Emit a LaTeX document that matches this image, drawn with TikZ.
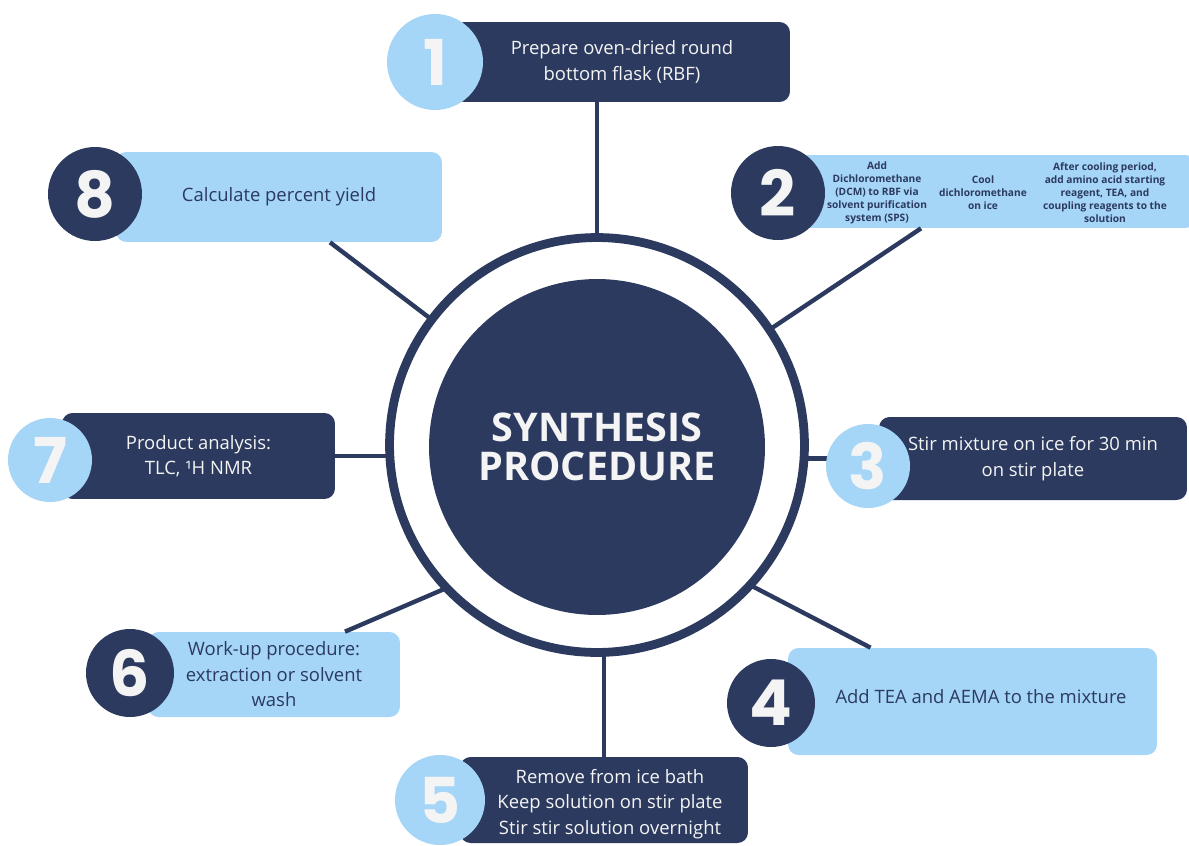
\documentclass[tikz,border=0pt]{standalone}
\usepackage{fontspec}
\setmainfont{Open Sans}
\newfontfamily\numfont{Poppins}
\usetikzlibrary{positioning}
\definecolor{navy}{HTML}{2B3A5E}
\definecolor{skyblue}{HTML}{A5D5F7}
\definecolor{chalk}{HTML}{F4F4F4}

\begin{document}
\begin{tikzpicture}[
  x=0.02cm, y=-0.02cm,
  darkbox/.style={fill=navy, rounded corners=6pt, inner sep=0pt, text=chalk, align=center,
    font=\fontsize{10.5}{14.5}\selectfont},
  lightbox/.style={fill=skyblue, rounded corners=6pt, inner sep=0pt, text=navy, align=center,
    font=\fontsize{10.5}{14.5}\selectfont},
  darknum/.style={circle, fill=navy, text=chalk, inner sep=0pt,
    font=\numfont\bfseries\fontsize{36}{36}\selectfont},
  lightnum/.style={circle, fill=skyblue, text=chalk, inner sep=0pt,
    font=\numfont\bfseries\fontsize{36}{36}\selectfont},
  bodytext/.style={text=navy, align=center, font=\fontsize{10.5}{14.5}\selectfont},
  smalltext/.style={text=navy, align=center, font=\bfseries\fontsize{5.8}{7.4}\selectfont},
  spoke/.style={navy, line width=2.5pt},
]

% Background
\fill[white] (0,0) rectangle (1189,845);
\useasboundingbox (0,0) rectangle (1189,845);

% Step boxes
\node[darkbox, minimum width=6.72cm, minimum height=1.6cm] (b1) at (622,62)
  {Prepare oven-dried round\\bottom flask (RBF)};
\node[lightbox, minimum width=8.12cm, minimum height=1.46cm] (b2) at (993,191.5) {};
\node[smalltext] (t2a) at (877,193)
  {Add\\Dichloromethane\\(DCM) to RBF via\\solvent purification\\system (SPS)};
\node[smalltext] (t2b) at (983,193) {Cool\\dichloromethane\\on ice};
\node[smalltext] (t2c) at (1105,193)
  {After cooling period,\\add amino acid starting\\reagent, TEA, and\\coupling reagents to the\\solution};
\node[darkbox, minimum width=6.16cm, minimum height=1.66cm] (b3) at (1033,458.5)
  {Stir mixture on ice for 30 min\\on stir plate};
\node[lightbox, minimum width=7.38cm, minimum height=2.14cm] (b4) at (972.5,701.5) {};
\node[bodytext] (t4) at (981,697) {Add TEA and AEMA to the mixture};
\node[darkbox, minimum width=5.76cm, minimum height=1.72cm] (b5) at (604,800) {};
\node[bodytext, text=chalk] (t5) at (610,804)
  {Remove from ice bath\\Keep solution on stir plate\\Stir stir solution overnight};
\node[lightbox, minimum width=5.04cm, minimum height=1.7cm] (b6) at (274,674.5)
  {Work-up procedure:\\extraction or solvent\\wash};
\node[darkbox, minimum width=5.46cm, minimum height=1.72cm] (b7) at (198.5,456)
  {Product analysis:\\TLC, ¹H NMR};
\node[lightbox, minimum width=6.52cm, minimum height=1.8cm] (b8) at (279,197)
  {Calculate percent yield};

% Spokes out of the hub
\coordinate (c) at (597,445);
\draw[spoke] (c) -- (c |- b1.south);
\draw[spoke] (c) -- ([xshift=-1.44cm]b2.south);
\draw[spoke] (b3.west -| c) -- (b3.west);
\draw[spoke] ([shift={(103,114)}]c) -- ([xshift=-2.04cm]b4.north);
\draw[spoke] (b5.north |- c) -- (b5.north);
\draw[spoke] ([shift={(-97,120)}]c) -- ([xshift=1.42cm]b6.north);
\draw[spoke] (b7.east -| c) -- (b7.east);
\draw[spoke] (c) -- ([xshift=1.02cm]b8.south);

% Number badges
\node[lightnum, minimum size=1.92cm] (n1) at (435,62) {1};
\node[darknum, minimum size=1.88cm] (n2) at (778,193) {2};
\node[lightnum, minimum size=1.68cm] (n3) at (868,466) {3};
\node[darknum, minimum size=1.76cm] (n4) at (771,703) {4};
\node[lightnum, minimum size=1.8cm] (n5) at (440,800) {5};
\node[darknum, minimum size=1.76cm] (n6) at (130,673) {6};
\node[lightnum, minimum size=1.68cm] (n7) at (50,460) {7};
\node[darknum, minimum size=1.88cm] (n8) at (95,194) {8};

% Hub
\node[circle, draw=navy, fill=white, line width=5pt, minimum size=8.3cm, inner sep=0pt] (hub) at (c) {};
\node[circle, fill=navy, minimum size=6.72cm, inner sep=0pt, text=chalk, align=center,
  font=\bfseries\fontsize{22.5}{22.5}\selectfont] (core) at ([yshift=-0.04cm]c) {SYNTHESIS\\PROCEDURE};

\end{tikzpicture}
\end{document}
